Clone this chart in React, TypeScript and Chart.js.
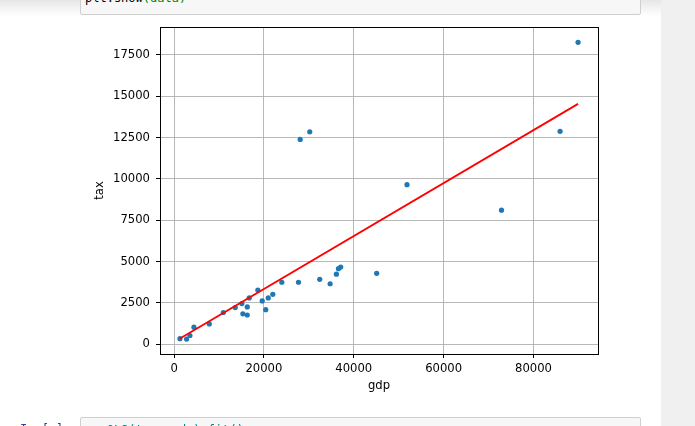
import React, { useEffect, useRef } from "react";
import { Chart, registerables } from "chart.js";

Chart.register(...registerables);

// Data
const gdp = [
  1310, 2780, 3530, 4420, 7840, 10960, 13620, 15090, 15310, 16290, 16290,
  16730, 18640, 19620, 20400, 20960, 21980, 23980, 27690, 28070, 30200,
  32420, 34730, 36130, 36580, 37090, 45090, 51840, 72870, 85910, 89910,
];
const tax = [
  340, 310, 530, 1030, 1230, 1920, 2220, 2460, 1840, 1770, 2260,
  2800, 3280, 2620, 2090, 2800, 3020, 3750, 3750, 12390, 12850,
  3930, 3660, 4240, 4570, 4670, 4290, 9650, 8110, 12880, 18260,
];
// Fitted regression line (predicted values at min / max gdp)
const fitGdp = [1310, 89910];
const fitTax = [345, 14540];

const xTicks = [0, 20000, 40000, 60000, 80000];
const yTicks = [0, 2500, 5000, 7500, 10000, 12500, 15000, 17500];

const X_MIN = -3130;
const X_MAX = 94350;
const Y_MIN = -590;
const Y_MAX = 19190;

const FONT = "'DejaVu Sans', sans-serif";
const FS = 11.6;

const framePlugin = {
  id: "frame",
  afterDraw(chart: any) {
    const { ctx, chartArea } = chart;
    ctx.save();
    ctx.strokeStyle = "#000000";
    ctx.lineWidth = 1;
    ctx.strokeRect(
      Math.round(chartArea.left) + 0.5,
      Math.round(chartArea.top) + 0.5,
      Math.round(chartArea.right - chartArea.left),
      Math.round(chartArea.bottom - chartArea.top)
    );
    ctx.restore();
  },
};

export default function App() {
  const ref = useRef<HTMLCanvasElement | null>(null);

  useEffect(() => {
    if (!ref.current) return;
    const chart = new Chart(ref.current, {
      type: "scatter",
      data: {
        datasets: [
          {
            label: "data",
            data: gdp.map((g, i) => ({ x: g, y: tax[i] })),
            backgroundColor: "#1f77b4",
            borderWidth: 0,
            pointRadius: 2.6,
            pointHoverRadius: 2.6,
            order: 2,
          },
          {
            label: "fit",
            type: "line",
            data: fitGdp.map((g, i) => ({ x: g, y: fitTax[i] })),
            borderColor: "#ff0000",
            borderWidth: 1.8,
            pointRadius: 0,
            showLine: true,
            fill: false,
            order: 1,
          },
        ],
      },
      options: {
        responsive: false,
        animation: false,
        events: [],
        layout: { padding: { left: 0, top: 27, right: 97, bottom: 0 } },
        plugins: {
          legend: { display: false },
          tooltip: { enabled: false },
        },
        scales: {
          x: {
            type: "linear",
            min: X_MIN,
            max: X_MAX,
            afterFit: (axis: any) => {
              axis.height = 72;
            },
            afterBuildTicks: (axis: any) => {
              axis.ticks = xTicks.map((v) => ({ value: v }));
            },
            ticks: {
              color: "#000000",
              font: { family: FONT, size: FS },
              padding: 4.5,
              maxRotation: 0,
              callback: (v: any) => String(v),
            },
            grid: {
              color: "#b0b0b0",
              lineWidth: 0.9,
              tickLength: 4,
              tickColor: "#000000",
              tickWidth: 1,
            },
            border: { display: false },
            title: {
              display: true,
              text: "gdp",
              color: "#000000",
              font: { family: FONT, size: FS },
              padding: { top: 0, bottom: 33.5 },
            },
          },
          y: {
            type: "linear",
            min: Y_MIN,
            max: Y_MAX,
            afterFit: (axis: any) => {
              axis.width = 160;
            },
            afterBuildTicks: (axis: any) => {
              axis.ticks = yTicks.map((v) => ({ value: v }));
            },
            ticks: {
              color: "#000000",
              font: { family: FONT, size: FS },
              padding: 6,
              callback: (v: any) => String(v),
            },
            grid: {
              color: "#b0b0b0",
              lineWidth: 0.9,
              tickLength: 4,
              tickColor: "#000000",
              tickWidth: 1,
            },
            border: { display: false },
            title: {
              display: true,
              text: "tax",
              color: "#000000",
              font: { family: FONT, size: FS },
              padding: { top: 93, bottom: 0 },
            },
          },
        },
      },
      plugins: [framePlugin],
    } as any);
    return () => chart.destroy();
  }, []);

  const mono = "'DejaVu Sans Mono', 'Liberation Mono', monospace";

  return (
    <div
      style={{
        position: "fixed",
        left: 0,
        top: 0,
        width: 695,
        height: 426,
        overflow: "hidden",
        background: "#ffffff",
      }}
    >
      {/* top header shadow */}
      <div
        style={{
          position: "absolute",
          left: 0,
          top: 0,
          width: 661,
          height: 16,
          background: "linear-gradient(#e6e6e6, rgba(255,255,255,0))",
        }}
      />
      {/* previous code cell (cut off) */}
      <div
        style={{
          position: "absolute",
          left: 80,
          top: -20,
          width: 559,
          height: 33,
          background: "#f7f7f7",
          border: "1px solid #cfcfcf",
          borderRadius: 2,
          overflow: "hidden",
        }}
      >
        <div
          style={{
            position: "absolute",
            left: 4,
            top: 10,
            fontFamily: mono,
            fontSize: 12,
            color: "#000",
            whiteSpace: "pre",
          }}
        >
          plt.show<span style={{ color: "#008000" }}>(data)</span>
        </div>
      </div>
      {/* right gray strip */}
      <div
        style={{
          position: "absolute",
          left: 661,
          top: 0,
          width: 34,
          height: 426,
          background: "#f0f0f0",
        }}
      />
      <canvas
        ref={ref}
        width={695}
        height={426}
        style={{ position: "absolute", left: 0, top: 0, width: 695, height: 426 }}
      />
      {/* next cell prompt */}
      <div
        style={{
          position: "absolute",
          left: 20,
          top: 422,
          fontFamily: mono,
          fontSize: 12,
          color: "#303f9f",
          whiteSpace: "pre",
        }}
      >
        In [ ]:
      </div>
      <div
        style={{
          position: "absolute",
          left: 80,
          top: 417,
          width: 559,
          height: 30,
          background: "#f7f7f7",
          border: "1px solid #cfcfcf",
          borderRadius: 2,
          overflow: "hidden",
        }}
      >
        <div
          style={{
            position: "absolute",
            left: 4,
            top: 5,
            fontFamily: mono,
            fontSize: 12,
            color: "#008080",
            whiteSpace: "pre",
          }}
        >
          sm.OLS(tax, gdp).fit()
        </div>
      </div>
    </div>
  );
}
